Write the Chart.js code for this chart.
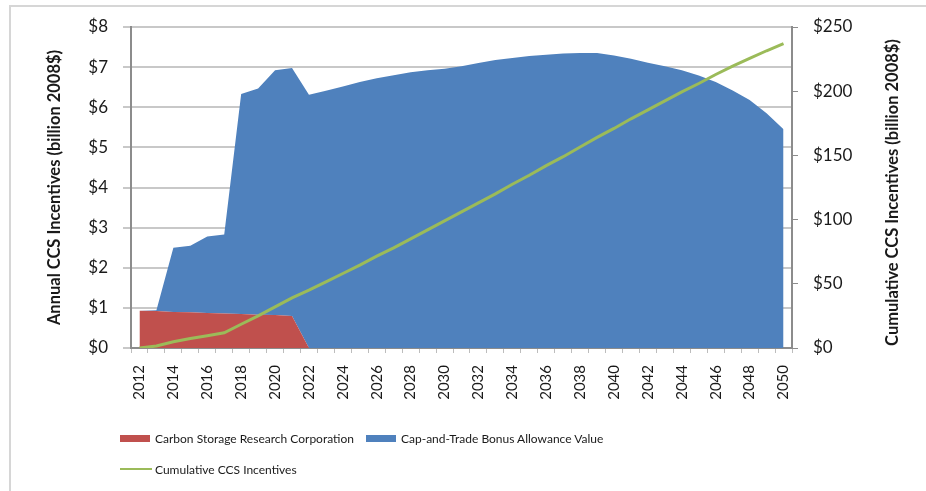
<!DOCTYPE html>
<html>
<head>
<meta charset="utf-8">
<script src="https://cdn.jsdelivr.net/npm/chart.js@4.4.1/dist/chart.umd.min.js"></script>
<style>
  html, body { margin:0; padding:0; background:#fff; overflow:hidden; }
  #wrap { position:relative; width:926px; height:491px; overflow:hidden; }
  #frame { position:absolute; left:9px; top:5px; width:960px; height:540px; border:2px solid #d6d6d6; box-sizing:border-box; }
  #chart { position:absolute; left:0; top:0; }
  #legend { position:absolute; left:120px; top:428px; width:520px; display:flex; flex-wrap:wrap; font:12px Lato, sans-serif; color:#1a1a1a; }
  .item { display:flex; align-items:center; height:20px; margin:0 12px 11px 0; white-space:nowrap; }
  .sw { width:30px; height:7px; margin-right:5px; }
  .ln { width:32px; height:2px; margin-right:3px; }
</style>
</head>
<body>
<div id="wrap">
  <div id="frame"></div>
  <canvas id="chart" width="926" height="491"></canvas>
  <div id="legend"></div>
</div>
<script>
// Years on the category axis
const years = ['2012','2013','2014','2015','2016','2017','2018','2019','2020','2021',
  '2022','2023','2024','2025','2026','2027','2028','2029','2030','2031',
  '2032','2033','2034','2035','2036','2037','2038','2039','2040','2041',
  '2042','2043','2044','2045','2046','2047','2048','2049','2050'];

// Annual incentives, billion 2008$ (stacked areas)
const carbonStorage = [0.93, 0.92, 0.90, 0.89, 0.87, 0.86, 0.85, 0.83, 0.82, 0.80,
  0, 0, 0, 0, 0, 0, 0, 0, 0, 0,
  0, 0, 0, 0, 0, 0, 0, 0, 0, 0,
  0, 0, 0, 0, 0, 0, 0, 0, 0];
const bonusAllowance = [0, 0.02, 1.60, 1.66, 1.91, 1.97, 5.48, 5.64, 6.10, 6.18,
  6.31, 6.41, 6.52, 6.63, 6.72, 6.80, 6.87, 6.92, 6.96, 7.02,
  7.10, 7.18, 7.23, 7.28, 7.31, 7.34, 7.35, 7.35, 7.29, 7.21,
  7.11, 7.02, 6.92, 6.79, 6.63, 6.42, 6.18, 5.85, 5.45];

// Cumulative incentives, billion 2008$ (right axis)
const cumulative = [0, 1.5, 4.9, 7.4, 9.6, 11.9, 18.5, 25, 32, 39,
  45, 51.5, 58, 64.5, 71.5, 78, 85, 92, 99, 106,
  113, 120, 127.5, 134.5, 142, 149, 156.5, 164, 171, 178.5,
  185.5, 192.5, 199.5, 206, 213, 219.5, 225.5, 231.5, 237];

const leftTitle = 'Annual CCS Incentives (billion 2008$)';
const rightTitle = 'Cumulative CCS Incentives (billion 2008$)';

const RED = '#C0504D', BLUE = '#4F81BD', GREEN = '#9BBB59';
const AXIS = '#8c8c8c', GRID = '#c8c8c8', TXT = '#1a1a1a';

// right axis title reads bottom-to-top, so draw it by hand
const rightTitlePlugin = {
  id: 'rightTitle',
  afterDraw(chart) {
    const ctx = chart.ctx;
    const s = chart.scales.y2;
    ctx.save();
    ctx.translate(s.right - 12, (chart.chartArea.top + chart.chartArea.bottom) / 2 + 5);
    ctx.rotate(-Math.PI / 2);
    ctx.font = 'bold 16.5px Lato';
    ctx.fillStyle = TXT;
    ctx.textAlign = 'center';
    ctx.textBaseline = 'middle';
    ctx.fillText(rightTitle, 0, 0);
    ctx.restore();
  }
};

const chart = new Chart(document.getElementById('chart'), {
  type: 'line',
  data: {
    labels: years,
    datasets: [
      {
        label: 'Carbon Storage Research Corporation',
        data: carbonStorage,
        yAxisID: 'y',
        backgroundColor: RED,
        borderWidth: 0,
        pointRadius: 0,
        fill: 'origin',
        order: 1,
      },
      {
        label: 'Cap-and-Trade Bonus Allowance Value',
        data: bonusAllowance,
        yAxisID: 'y',
        backgroundColor: BLUE,
        borderWidth: 0,
        pointRadius: 0,
        fill: '-1',
        order: 2,
      },
      {
        label: 'Cumulative CCS Incentives',
        data: cumulative,
        yAxisID: 'y2',
        borderColor: GREEN,
        borderWidth: 3,
        pointRadius: 0,
        fill: false,
        order: 0,
      }
    ]
  },
  options: {
    responsive: false,
    animation: false,
    layout: { padding: { left: 41, right: 21, top: 27, bottom: 0 } },
    plugins: { legend: { display: false }, tooltip: { enabled: false } },
    scales: {
      x: {
        offset: true,
        grid: { offset: true, drawOnChartArea: false, color: '#bdbdbd', tickLength: 5 },
        border: { color: AXIS, width: 2 },
        ticks: {
          autoSkip: false, maxRotation: 90, minRotation: 90, padding: 12,
          color: TXT, font: { family: 'Lato', size: 15 },
          callback: (v, i) => i % 2 === 0 ? years[i] : ''
        },
        afterFit: s => { s.height = 143; }
      },
      y: {
        stacked: true,
        min: 0, max: 8,
        ticks: { stepSize: 1, padding: 15, color: TXT, font: { family: 'Lato', size: 17 }, callback: v => '$' + v },
        grid: { color: GRID, lineWidth: 2, tickLength: 8 },
        border: { color: AXIS, width: 2 },
        title: { display: true, text: leftTitle, color: TXT, font: { family: 'Lato', size: 16.5, weight: 'bold' } },
        afterFit: s => { s.width = 90; }
      },
      y2: {
        position: 'right',
        min: 0, max: 250,
        ticks: { stepSize: 50, padding: 15, color: TXT, font: { family: 'Lato', size: 17 }, callback: v => '$' + v },
        grid: { drawOnChartArea: false, color: AXIS, tickLength: 6 },
        border: { color: AXIS, width: 2 },
        afterFit: s => { s.width = 113; }
      }
    }
  },
  plugins: [rightTitlePlugin]
});

// Legend built from the chart's datasets
const legend = document.getElementById('legend');
chart.data.datasets.forEach(ds => {
  const item = document.createElement('div');
  item.className = 'item';
  const mark = document.createElement('span');
  if (ds.fill === false) {
    mark.className = 'ln';
    mark.style.background = ds.borderColor;
  } else {
    mark.className = 'sw';
    mark.style.background = ds.backgroundColor;
  }
  item.appendChild(mark);
  item.appendChild(document.createTextNode(ds.label));
  legend.appendChild(item);
});
</script>
</body>
</html>
